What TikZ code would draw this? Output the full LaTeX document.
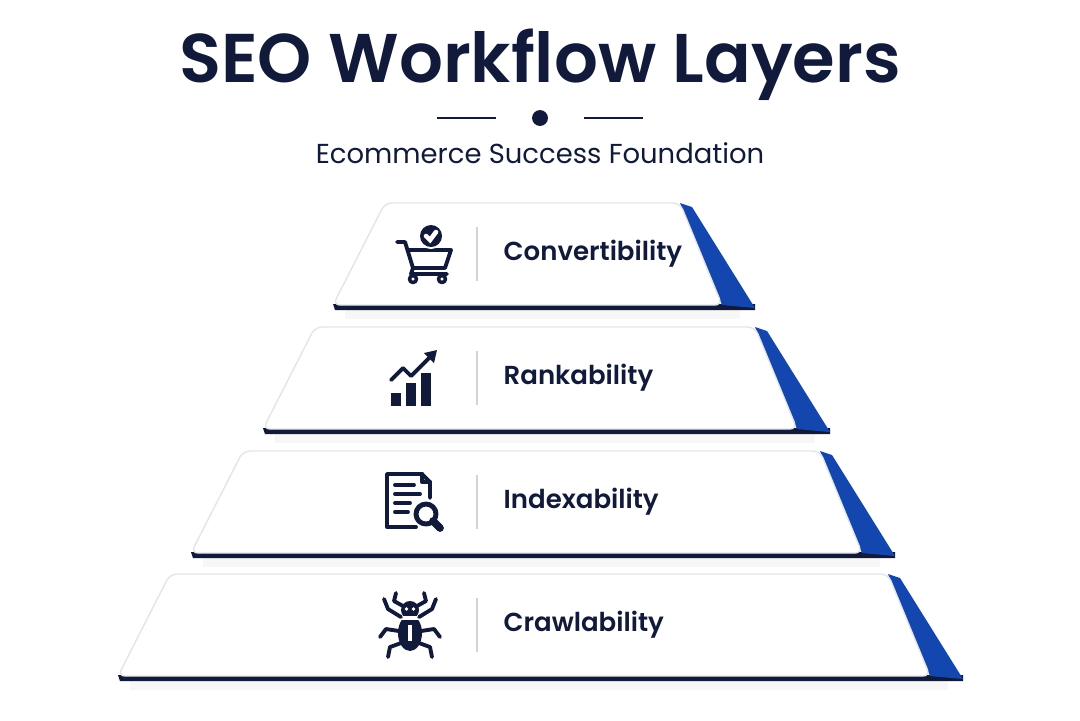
\documentclass[tikz,border=0pt]{standalone}
\usepackage{fontspec}
\setmainfont{Poppins}
\newfontfamily\semi{Poppins}[UprightFont=* SemiBold]
\usetikzlibrary{positioning}
\definecolor{ink}{HTML}{111A3A}
\definecolor{side}{HTML}{1446B0}
\definecolor{rule}{HTML}{D0D3DA}
\tikzset{
  slab/.style={fill=white,draw=rule!60,line width=0.4pt,rounded corners=2pt},
  lbl/.style={anchor=west,inner sep=0pt,font=\fontsize{7.4}{9}\semi,text=ink},
  icon/.style={draw=ink,line width=1.1pt,line cap=round,line join=round}
}
\begin{document}
\begin{tikzpicture}[x=0.01cm,y=-0.01cm]
\useasboundingbox[fill=white] (0,0) rectangle (1080,720);
\node[font=\fontsize{19.6}{24}\semi,text=ink] (title) at (540,65) {SEO Workflow Layers};
\node[circle,fill=ink,inner sep=1.6pt] (dot) at (540,118) {};
\coordinate (ruleL) at (437,118);
\coordinate (ruleR) at (643,118);
\draw[ink,line width=0.8pt] (ruleL) -- ([xshift=-10]dot.west);
\draw[ink,line width=0.8pt] ([xshift=10]dot.east) -- (ruleR);
\node[font=\fontsize{7.8}{9}\selectfont,text=ink] (sub) at (540,153) {Ecommerce Success Foundation};
% layers: top y, top-left x, top-right x, label
\foreach \t/\l/\r/\name/\txt in {203/385/680/conv/Convertibility,327/315/755/rank/Rankability,451/243/820/index/Indexability,574/170/888/crawl/Crawlability}{
  \pgfmathsetmacro{\b}{\t+102}
  \fill[gray!6] (\l-40,\b+3) -- (\r+60,\b+3) -- (\r+60,\b+14) -- (\l-40,\b+14) -- cycle;
  \fill[ink] (\l-52,\b-1) -- (\r+75,\b-1) -- (\r+75,\b+5) -- (\l-50,\b+5) -- cycle;
  \fill[side] (\r,\t) -- (\r+12,\t+4) -- (\r+75,\b+3) -- (\r+42,\b) -- cycle;
  \draw[slab] (\l,\t) -- (\r,\t) -- (\r+42,\b) -- (\l-52,\b) -- cycle;
  \draw[rule,line width=0.6pt] (477,\t+24) -- (477,\b-24);
  \node[lbl] (\name) at (503,\t+51) {\txt};
}
% cart icon
\begin{scope}[shift={(425,254)}]
  \draw[icon] (-28,-12) -- (-20,-12) -- (-12,14) -- (20,14);
  \draw[icon] (-17,-4) -- (26,-4) -- (20,14);
  \draw[icon] (-12,14) -- (-14,20) -- (22,20);
  \draw[icon,line width=1pt] (-12,25) circle (3.5) (17,25) circle (3.5);
  \fill[white] (6,-18) circle (13);
  \fill[ink] (6,-18) circle (11);
  \draw[white,line width=1.3pt,line cap=round] (1,-18) -- (5,-14) -- (11,-22);
\end{scope}
% chart icon
\begin{scope}[shift={(415,378)}]
  \fill[ink] (-24,15) rectangle (-14,28);
  \fill[ink] (-9,5) rectangle (1,28);
  \fill[ink] (6,-5) rectangle (16,28);
  \draw[icon] (-24,2) -- (-12,-10) -- (-4,-2) -- (18,-24);
  \fill[ink] (22,-28) -- (9,-25) -- (19,-15) -- cycle;
\end{scope}
% document with magnifier icon
\begin{scope}[shift={(412,500)}]
  \draw[icon] (10,-26) -- (-25,-26) -- (-25,27) -- (4,27);
  \draw[icon] (10,-26) -- (18,-18) -- (18,-2);
  \draw[icon] (10,-26) -- (10,-18) -- (18,-18);
  \draw[icon] (-17,-15) -- (2,-15) (-17,-6) -- (8,-6) (-17,3) -- (-2,3) (-17,12) -- (-4,12);
  \fill[white] (14,14) circle (10);
  \draw[icon,line width=1.4pt] (14,14) circle (10);
  \draw[icon,line width=2.2pt] (21,21) -- (28,28);
\end{scope}
% spider icon
\begin{scope}[shift={(410,625)}]
  \fill[ink] (0,-15) ellipse (9 and 9);
  \fill[ink] (0,8) ellipse (12 and 18);
  \fill[white] (-3.5,-16) circle (1.8) (3.5,-16) circle (1.8);
  \draw[white,line width=1.2pt] (0,0) -- (0,16);
  \draw[white,line width=1pt] (-9,-7) -- (9,-7);
  \foreach \s in {1,-1}{
    \draw[icon,xscale=\s] (7,-19) -- (16,-24) -- (14,-32);
    \draw[icon,xscale=\s] (9,-8) -- (22,-16) -- (26,-26);
    \draw[icon,xscale=\s] (11,6) -- (24,4) -- (30,12);
    \draw[icon,xscale=\s] (9,18) -- (20,22) -- (22,32);
  }
\end{scope}
\end{tikzpicture}
\end{document}
